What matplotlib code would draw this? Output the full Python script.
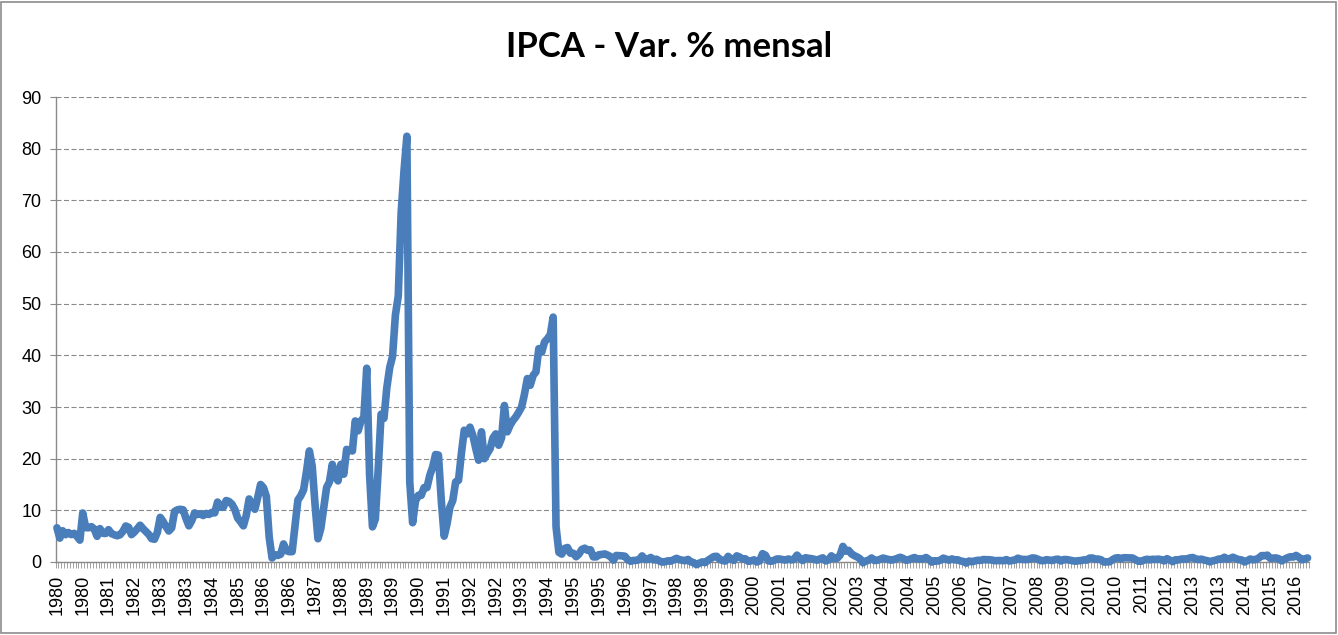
import matplotlib
matplotlib.use("Agg")
import matplotlib.pyplot as plt
from matplotlib.patches import Rectangle
from matplotlib.ticker import FixedLocator

# Monthly IPCA variation (%), Jan 1980 onward
y1980 = [6.62, 4.62, 6.04, 5.29, 5.70, 5.31, 5.55, 4.95, 4.23, 9.48, 6.67, 6.61]
y1981 = [6.84, 6.40, 4.97, 6.46, 5.56, 5.52, 6.26, 5.50, 5.26, 5.08, 5.27, 5.94]
y1982 = [6.97, 6.72, 5.29, 5.80, 6.42, 7.12, 6.46, 5.91, 5.35, 4.52, 4.40, 5.73]
y1983 = [8.64, 7.86, 6.87, 6.00, 6.60, 9.78, 10.10, 10.20, 10.10, 8.40, 7.00, 8.00]
y1984 = [9.50, 9.20, 9.30, 9.00, 9.40, 9.20, 9.60, 9.50, 11.60, 10.60, 10.60, 11.90]
y1985 = [11.70, 11.20, 10.20, 8.50, 7.80, 7.00, 9.00, 12.20, 11.00, 10.20, 12.50, 15.00]
y1986 = [14.40, 12.70, 4.80, 0.78, 1.40, 1.27, 1.50, 3.50, 2.20, 2.00, 2.00, 7.00]
y1987 = [12.00, 12.80, 14.00, 17.50, 21.50, 18.50, 11.00, 4.50, 6.50, 10.50, 14.40, 15.50]
y1988 = [18.90, 16.50, 15.70, 18.90, 17.00, 21.80, 21.60, 21.50, 27.30, 25.40, 27.30, 28.00]
y1989 = [37.50, 16.80, 6.80, 8.30, 17.90, 28.60, 27.80, 33.70, 37.60, 39.80, 47.80, 51.50]
y1990 = [67.60, 75.70, 82.40, 15.50, 7.60, 11.80, 12.90, 12.90, 14.40, 14.40, 16.80, 18.40]
y1991 = [20.80, 20.70, 11.90, 5.00, 7.40, 10.60, 11.90, 15.50, 15.80, 21.00, 25.50, 24.80]
y1992 = [26.10, 24.50, 22.00, 19.70, 25.20, 20.00, 21.00, 21.90, 24.00, 24.80, 22.60, 24.00]
y1993 = [30.30, 25.20, 26.50, 27.40, 28.10, 29.00, 30.00, 32.50, 35.50, 34.20, 36.10, 36.80]
y1994 = [41.30, 40.60, 42.60, 43.20, 44.00, 47.40, 6.84, 1.86, 1.53, 2.62, 2.81, 1.71]
y1995 = [1.70, 1.02, 1.55, 2.43, 2.67, 2.26, 2.36, 0.99, 0.99, 1.41, 1.47, 1.56]
y1996 = [1.34, 1.03, 0.35, 1.26, 1.22, 1.19, 1.11, 0.44, 0.15, 0.30, 0.32, 0.47]
y1997 = [1.18, 0.50, 0.51, 0.88, 0.41, 0.54, 0.22, -0.02, 0.06, 0.23, 0.17, 0.43]
y1998 = [0.71, 0.46, 0.34, 0.24, 0.50, 0.02, -0.12, -0.51, -0.22, 0.02, -0.12, 0.33]
y1999 = [0.70, 1.05, 1.10, 0.56, 0.30, 0.19, 1.09, 0.56, 0.31, 1.19, 0.95, 0.60]
y2000 = [0.62, 0.13, 0.22, 0.42, 0.01, 0.23, 1.61, 1.31, 0.23, 0.14, 0.32, 0.59]
y2001 = [0.57, 0.46, 0.38, 0.58, 0.41, 0.52, 1.33, 0.70, 0.28, 0.83, 0.71, 0.65]
y2002 = [0.52, 0.36, 0.60, 0.80, 0.21, 0.42, 1.19, 0.65, 0.72, 1.31, 3.02, 2.10]
y2003 = [2.25, 1.57, 1.23, 0.97, 0.61, -0.15, 0.20, 0.34, 0.78, 0.29, 0.34, 0.52]
y2004 = [0.76, 0.61, 0.47, 0.37, 0.51, 0.71, 0.91, 0.69, 0.33, 0.44, 0.69, 0.86]
y2005 = [0.58, 0.59, 0.61, 0.87, 0.49, -0.02, 0.25, 0.17, 0.35, 0.75, 0.55, 0.36]
y2006 = [0.59, 0.41, 0.43, 0.21, 0.10, -0.21, 0.19, 0.05, 0.21, 0.33, 0.31, 0.48]
y2007 = [0.44, 0.44, 0.37, 0.25, 0.28, 0.28, 0.24, 0.47, 0.18, 0.30, 0.38, 0.74]
y2008 = [0.54, 0.49, 0.48, 0.55, 0.79, 0.74, 0.53, 0.28, 0.26, 0.45, 0.36, 0.28]
y2009 = [0.48, 0.55, 0.20, 0.48, 0.47, 0.36, 0.24, 0.15, 0.24, 0.28, 0.41, 0.37]
y2010 = [0.75, 0.78, 0.52, 0.57, 0.43, 0.00, 0.01, 0.04, 0.45, 0.75, 0.83, 0.63]
y2011 = [0.83, 0.80, 0.79, 0.77, 0.47, 0.15, 0.16, 0.37, 0.53, 0.43, 0.52, 0.50]
y2012 = [0.56, 0.45, 0.21, 0.64, 0.36, 0.08, 0.43, 0.41, 0.57, 0.59, 0.60, 0.79]
y2013 = [0.86, 0.60, 0.47, 0.55, 0.37, 0.26, 0.03, 0.24, 0.35, 0.57, 0.54, 0.92]
y2014 = [0.55, 0.69, 0.92, 0.67, 0.46, 0.40, 0.01, 0.25, 0.57, 0.42, 0.51, 0.78]
y2015 = [1.24, 1.22, 1.32, 0.71, 0.74, 0.79, 0.62, 0.22, 0.54, 0.82, 1.01, 0.96]
y2016 = [1.27, 0.90, 0.43, 0.61, 0.78]

yearly = [y1980, y1981, y1982, y1983, y1984, y1985, y1986, y1987, y1988,
          y1989, y1990, y1991, y1992, y1993, y1994, y1995, y1996, y1997,
          y1998, y1999, y2000, y2001, y2002, y2003, y2004, y2005, y2006,
          y2007, y2008, y2009, y2010, y2011, y2012, y2013, y2014, y2015, y2016]
start_year = 1980
values = [v for yr in yearly for v in yr]
years = [start_year + i // 12 for i in range(len(values))]
label_step = 9
y_ticks = list(range(0, 100, 10))
title = "IPCA - Var. % mensal"

plt.rcParams['lines.scale_dashes'] = False
W, H = 1338, 635
fig = plt.figure(figsize=(W / 100, H / 100), dpi=100)
fig.patch.set_facecolor("white")

left, right, top, bottom = 55.5, 1309, 97, 562
ax = fig.add_axes([left / W, (H - bottom) / H, (right - left) / W, (bottom - top) / H])

n = len(values)
x = list(range(n))
ax.plot(x, values, color="#4A7EBB", lw=5.5, solid_joinstyle="round",
        solid_capstyle="round", zorder=3, clip_on=False)

ax.set_xlim(-0.5, n - 0.5)
ax.set_ylim(0, 90)
ax.set_yticks(y_ticks)
ax.set_yticklabels([str(t) for t in y_ticks], fontsize=13, family="Liberation Sans")
ax.yaxis.grid(True, color="#8a8a8a", lw=0.8, linestyle=(0, (3.6, 1.8)))
ax.set_axisbelow(True)

lbl_pos = list(range(0, n, label_step))
ax.set_xticks(lbl_pos)
ax.set_xticklabels([str(years[i]) for i in lbl_pos], rotation=90, fontsize=13,
                   family="Liberation Sans")
ax.tick_params(axis="x", which="major", length=0, pad=9)
ax.xaxis.set_minor_locator(FixedLocator([i - 0.5 for i in range(n + 1)]))
ax.tick_params(axis="x", which="minor", length=4, width=0.7, color="#a0a0a0")
ax.tick_params(axis="y", which="major", length=4, width=0.8, color="#8a8a8a", pad=6)

for s in ("top", "right"):
    ax.spines[s].set_visible(False)
for s in ("left", "bottom"):
    ax.spines[s].set_color("#8a8a8a")
    ax.spines[s].set_linewidth(1.0)

fig.text(0.5, 1 - 47 / H, title, ha="center", va="center", fontsize=25,
         fontweight="bold", family="Lato")

fig.patches.append(Rectangle((1 / W, 2 / H), (W - 3) / W, (H - 4) / H,
                             transform=fig.transFigure, fill=False,
                             edgecolor="#8c8c8c", lw=1.2))

fig.savefig("out.png", dpi=100, facecolor="white")
